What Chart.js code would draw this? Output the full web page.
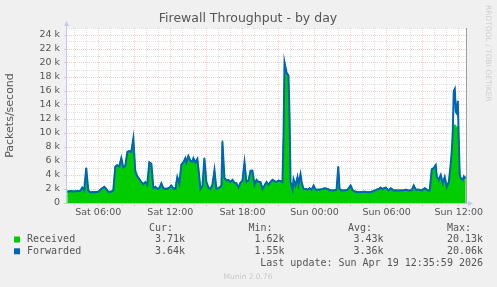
<!DOCTYPE html>
<html>
<head>
<meta charset="UTF-8">
<title>Firewall Throughput - by day</title>
<script src="https://cdn.jsdelivr.net/npm/chart.js"></script>
<style>
  body { margin: 0; background: #f0f0f0; }
  canvas { display: block; }
</style>
</head>
<body>
<canvas id="chart" width="497" height="287"></canvas>
<script>
// time in hours since Sat 00:00
const hours = [
  3.42, 3.67, 4.00, 4.33, 4.50, 4.67, 4.83, 5.00, 5.17, 5.33, 5.67, 6.00, 6.25, 6.50, 6.67, 6.83,
  7.08, 7.25, 7.42, 7.58, 7.75, 7.92, 8.08, 8.25, 8.42, 8.58, 8.75, 8.92, 9.08, 9.25, 9.42, 9.58,
  9.75, 9.92, 10.08, 10.25, 10.42, 10.50, 10.58, 10.75, 10.92, 11.08, 11.25, 11.42, 11.67, 11.92,
  12.08, 12.25, 12.42, 12.58, 12.75, 12.92, 13.08, 13.25, 13.33, 13.50, 13.67, 13.83, 13.92, 14.08,
  14.25, 14.42, 14.50, 14.67, 14.83, 15.00, 15.17, 15.33, 15.50, 15.67, 15.83, 16.08, 16.25, 16.33,
  16.50, 16.67, 16.83, 17.00, 17.17, 17.33, 17.50, 17.67, 17.83, 18.00, 18.17, 18.33, 18.50, 18.67,
  18.83, 19.00, 19.17, 19.33, 19.50, 19.67, 19.83, 20.00, 20.17, 20.33, 20.50, 20.67, 20.83, 21.00,
  21.17, 21.33, 21.42, 21.50, 21.67, 21.83, 21.92, 22.00, 22.17, 22.25, 22.42, 22.58, 22.67, 22.83,
  22.92, 23.08, 23.25, 23.42, 23.58, 23.75, 23.92, 24.08, 24.33, 24.58, 24.83, 25.08, 25.33, 25.58,
  25.83, 25.97, 26.08, 26.25, 26.50, 26.75, 27.00, 27.17, 27.42, 27.67, 27.92, 28.17, 28.42, 28.67,
  28.92, 29.17, 29.33, 29.50, 29.67, 29.92, 30.17, 30.33, 30.58, 30.83, 31.08, 31.33, 31.58, 31.83,
  32.08, 32.25, 32.42, 32.67, 32.92, 33.17, 33.42, 33.58, 33.75, 33.92, 34.08, 34.17, 34.33, 34.50,
  34.67, 34.83, 35.00, 35.17, 35.33, 35.42, 35.50, 35.58, 35.67, 35.75, 35.83, 35.92, 36.00, 36.08,
  36.17, 36.33, 36.42, 36.50, 36.58
];
const forwarded = [
  1600, 1700, 1650, 1700, 1700, 2200, 1800, 5000, 1800, 1550, 1550, 1600, 2000, 2300, 2000, 1600,
  1600, 1800, 5200, 5400, 5200, 6400, 5100, 5300, 7300, 7400, 7300, 9200, 4600, 3800, 3400, 3000,
  2700, 3000, 2600, 5800, 5600, 4000, 2100, 2300, 2000, 2100, 2800, 2100, 2000, 2200,
  2500, 2100, 2000, 3700, 2800, 5500, 5800, 6400, 5800, 6700, 6000, 5900, 6400, 5800,
  6300, 3500, 2000, 2400, 6400, 3000, 2200, 2000, 2600, 4700, 2000, 2200, 2500, 8800,
  3600, 3200, 3300, 3000, 3300, 2900, 2800, 2200, 2900, 3200, 5800, 3000, 3200, 4600,
  4600, 2600, 3300, 3000, 3000, 2000, 2500, 3000, 2600, 3000, 3300, 3100, 3000, 3200,
  3100, 3000, 10000, 20060, 18600, 18200, 12000, 3000, 1900, 3400, 2500, 3700, 2700, 4100,
  3000, 2000, 2000, 1900, 2100, 1900, 2500, 1900, 1900, 1950, 2100, 2000, 1800, 1800,
  1900, 5200, 2000, 1800, 1800, 1900, 2500, 1800, 1600, 1550, 1560, 1600, 1550, 1580,
  1700, 1900, 2000, 2200, 2000, 2200, 1800, 2100, 1800, 1800, 1800, 1800, 1900, 1800,
  1800, 2500, 1900, 1900, 1800, 2100, 1800, 1800, 4800, 5000, 5400, 3800, 3300, 4000,
  2800, 3700, 2300, 3000, 5600, 7500, 10200, 16000, 16300, 13000, 12800, 14600, 9000, 4000,
  3500, 3300, 3800, 3600, 3640
];
const received = [
  1660, 1760, 1720, 1770, 1760, 2270, 1860, 5080, 1870, 1620, 1630, 1670, 2070, 2370, 2060, 1660,
  1670, 1870, 5300, 5480, 5280, 6500, 5180, 5390, 7400, 7500, 7390, 9310, 4680, 3870, 3470, 3060,
  2760, 3070, 2660, 5890, 5690, 4080, 2160, 2370, 2060, 2170, 2870, 2160, 2070, 2260,
  2570, 2170, 2060, 3780, 2870, 5590, 5890, 6500, 5880, 6800, 6090, 5990, 6490, 5880,
  6390, 3570, 2060, 2470, 6500, 3070, 2260, 2070, 2660, 4780, 2070, 2260, 2570, 8920,
  3670, 3270, 3370, 3070, 3360, 2970, 2860, 2270, 2960, 3270, 5890, 3070, 3260, 4680,
  4690, 2670, 3370, 3060, 3070, 2060, 2570, 3070, 2660, 3070, 3370, 3160, 3070, 3270,
  3170, 3060, 10100, 20130, 18700, 18300, 12100, 3070, 1960, 3470, 2570, 3770, 2760, 4180,
  3070, 2060, 2070, 1960, 2170, 1970, 2570, 1960, 1970, 2010, 2170, 2060, 1870, 1860,
  1970, 5290, 2070, 1860, 1870, 1960, 2570, 1870, 1670, 1620, 1630, 1660, 1620, 1650,
  1770, 1960, 2070, 2270, 2060, 2270, 1870, 2160, 1870, 1860, 1870, 1860, 1970, 1860,
  1870, 2570, 1960, 1970, 1860, 2170, 1860, 1870, 4890, 5090, 5490, 3870, 3370, 4080,
  2870, 3770, 2370, 3070, 5690, 7300, 9500, 11000, 11200, 11000, 10800, 11000, 8800, 4070,
  3570, 3370, 3870, 3670, 3710
];
const seriesNames = ['Received', 'Forwarded'];
const seriesColors = ['#00cc00', '#0066b3'];
const statHeads = ['Cur:', 'Min:', 'Avg:', 'Max:'];
const statValues = [
  ['3.71k', '1.62k', '3.43k', '20.13k'],
  ['3.64k', '1.55k', '3.36k', '20.06k']
];
const titleText = 'Firewall Throughput - by day';
const lastUpdate = 'Last update: Sun Apr 19 12:35:59 2026';

const MAJOR = 'rgba(220,130,130,0.4)';
const MINOR = 'rgba(170,170,170,0.35)';
const AXIS = '#c4c8f0';

function pad(n) { return (n < 10 ? '0' : '') + n; }

const muninPlugin = {
  id: 'munin',
  beforeDraw(chart) {
    const { ctx, chartArea: a } = chart;
    ctx.save();
    ctx.fillStyle = '#f0f0f0';
    ctx.fillRect(0, 0, chart.width, chart.height);
    ctx.fillStyle = '#ffffff';
    ctx.fillRect(a.left, a.top, a.right - a.left, a.bottom - a.top);
    ctx.restore();
  },
  afterDraw(chart) {
    const { ctx, chartArea: a } = chart;
    ctx.save();
    // title
    ctx.fillStyle = '#555';
    ctx.font = '12.5px "DejaVu Sans"';
    ctx.textAlign = 'center';
    ctx.textBaseline = 'middle';
    ctx.fillText(titleText, 248, 19);
    // frame on the right
    ctx.strokeStyle = '#a0a0a0';
    ctx.lineWidth = 1;
    ctx.beginPath();
    ctx.moveTo(a.right + 0.5, a.top);
    ctx.lineTo(a.right + 0.5, a.bottom);
    ctx.stroke();
    // axes with arrows
    ctx.strokeStyle = AXIS;
    ctx.fillStyle = AXIS;
    ctx.beginPath();
    ctx.moveTo(a.left - 0.5, a.bottom + 1);
    ctx.lineTo(a.left - 0.5, a.top - 3);
    ctx.moveTo(a.left - 1, a.bottom + 0.5);
    ctx.lineTo(a.right + 4, a.bottom + 0.5);
    ctx.stroke();
    ctx.beginPath();
    ctx.moveTo(a.left - 3, a.top - 2);
    ctx.lineTo(a.left + 2, a.top - 2);
    ctx.lineTo(a.left - 0.5, a.top - 7);
    ctx.closePath();
    ctx.fill();
    ctx.beginPath();
    ctx.moveTo(a.right + 2, a.bottom - 2);
    ctx.lineTo(a.right + 2, a.bottom + 3);
    ctx.lineTo(a.right + 7, a.bottom + 0.5);
    ctx.closePath();
    ctx.fill();

    // legend table
    ctx.font = '10px "DejaVu Sans Mono"';
    ctx.textBaseline = 'middle';
    ctx.fillStyle = '#555';
    const headX = [149, 248.5, 348, 447];
    const valX = [185, 284.5, 383.5, 483];
    ctx.textAlign = 'left';
    statHeads.forEach((h, i) => ctx.fillText(h, headX[i], 228));
    seriesNames.forEach((name, r) => {
      const y = 239.5 + r * 11.8;
      ctx.fillStyle = seriesColors[r];
      ctx.fillRect(14, y - 3, 6, 6);
      ctx.fillStyle = '#555';
      ctx.textAlign = 'left';
      ctx.fillText(name, 27, y);
      ctx.textAlign = 'right';
      statValues[r].forEach((v, i) => ctx.fillText(v, valX[i], y));
    });
    ctx.textAlign = 'right';
    ctx.fillText(lastUpdate, 483, 263.5);

    // footer and side text
    ctx.fillStyle = '#c8c8c8';
    ctx.font = '7.5px "DejaVu Sans"';
    ctx.textAlign = 'center';
    ctx.fillText('Munin 2.0.76', 248, 277);
    ctx.translate(487.5, 5);
    ctx.rotate(Math.PI / 2);
    ctx.textAlign = 'left';
    ctx.fillStyle = '#d0d0d0';
    ctx.fillText('RRDTOOL / TOBI OETIKER', 0, 0);
    ctx.restore();
  }
};

new Chart(document.getElementById('chart'), {
  type: 'line',
  data: {
    datasets: [
      {
        label: seriesNames[0],
        data: hours.map((h, i) => ({ x: h, y: received[i] })),
        borderColor: seriesColors[0],
        backgroundColor: seriesColors[0],
        borderWidth: 1,
        fill: 'origin',
        pointRadius: 0,
        tension: 0,
        order: 2
      },
      {
        label: seriesNames[1],
        data: hours.map((h, i) => ({ x: h, y: forwarded[i] })),
        borderColor: seriesColors[1],
        borderWidth: 2,
        fill: false,
        pointRadius: 0,
        tension: 0,
        order: 1
      }
    ]
  },
  options: {
    responsive: false,
    animation: false,
    devicePixelRatio: 1,
    layout: { padding: { top: 28, left: 0, right: 31, bottom: 0 } },
    plugins: {
      legend: { display: false },
      tooltip: { enabled: false },
      title: { display: false }
    },
    scales: {
      x: {
        type: 'linear',
        min: 3.4,
        max: 36.6,
        afterBuildTicks(scale) {
          const t = [];
          for (let h = 4; h <= 36; h++) t.push({ value: h });
          scale.ticks = t;
        },
        afterFit(scale) { scale.height = 84; },
        border: { display: false, dash: [1, 1] },
        grid: {
          color: c => (c.tick && c.tick.value % 3 === 0 ? MAJOR : MINOR),
          tickColor: c => (c.tick && c.tick.value % 3 === 0 ? MAJOR : MINOR),
          tickLength: 3,
          lineWidth: 1
        },
        ticks: {
          autoSkip: false,
          maxRotation: 0,
          padding: 1,
          color: '#555',
          font: { family: 'DejaVu Sans', size: 9.5 },
          callback: v => (v % 6 === 0 ? (v < 24 ? 'Sat ' : 'Sun ') + pad(v % 24) + ':00' : '')
        }
      },
      y: {
        min: 0,
        max: 25000,
        afterBuildTicks(scale) {
          const t = [];
          for (let v = 0; v <= 25000; v += 1000) t.push({ value: v });
          scale.ticks = t;
        },
        afterFit(scale) { scale.width = 67; },
        border: { display: false, dash: [1, 1] },
        grid: {
          color: c => (c.tick && c.tick.value % 2000 === 0 ? MAJOR : MINOR),
          tickColor: c => (c.tick && c.tick.value % 2000 === 0 ? MAJOR : 'rgba(0,0,0,0)'),
          tickLength: 3,
          lineWidth: 1
        },
        ticks: {
          autoSkip: false,
          padding: 4,
          color: '#555',
          font: { family: 'DejaVu Sans', size: 9.5 },
          callback: v => (v % 2000 === 0 ? (v === 0 ? '0' : v / 1000 + ' k') : '')
        },
        title: {
          display: true,
          text: 'Packets/second',
          color: '#555',
          font: { family: 'DejaVu Sans', size: 11 },
          padding: { top: 4, bottom: 0 }
        }
      }
    }
  },
  plugins: [muninPlugin]
});
</script>
</body>
</html>
